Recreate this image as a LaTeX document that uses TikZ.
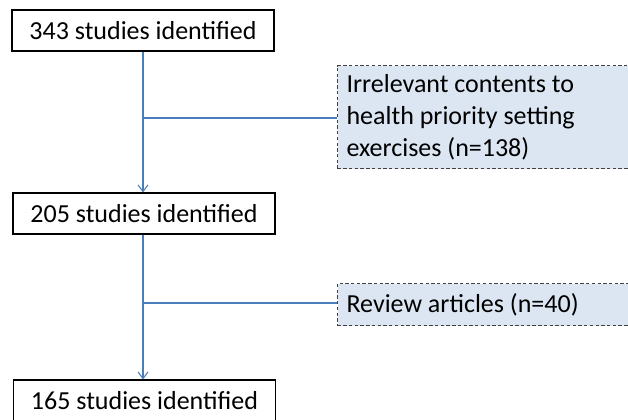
\documentclass[tikz,border=0pt]{standalone}
\usepackage{fontspec}
\setmainfont{Carlito}
\usetikzlibrary{arrows.meta}
\definecolor{linkblue}{HTML}{4A7EBB}
\definecolor{exfill}{HTML}{DCE6F2}
\tikzset{
  stagebox/.style={draw=black, line width=0.8pt, fill=white, minimum width=196.5pt, minimum height=30.75pt, inner sep=0pt, font=\fontsize{19.5pt}{24pt}\selectfont},
  exbox/.style={draw=black!75, line width=0.8pt, dash pattern=on 2.5pt off 1.8pt, fill=exfill, anchor=north west, inner xsep=6.75pt, inner ysep=0pt, align=flush left, text width=220pt, font=\fontsize{19.5pt}{24pt}\selectfont},
  flow/.style={draw=linkblue, line width=0.8pt},
  flowarrow/.style={flow, -{Straight Barb[length=5pt,width=7.5pt,line width=0.8pt]}}
}
\begin{document}
\begin{tikzpicture}[x=0.75pt,y=-0.75pt]
\useasboundingbox (0,0) rectangle (628,419);
\clip (0,0) rectangle (628,419);
\node[stagebox] (a) at (143,30.5) {343 studies identified};
\node[stagebox] (b) at (144,213.5) {205 studies identified};
\node[stagebox] (c) at (144.5,400.5) {165 studies identified};
\node[exbox, minimum height=77.25pt] (e1) at (337,65) {Irrelevant contents to\\health priority setting\\exercises (n=138)};
\node[exbox, minimum height=31.5pt] (e2) at (337,283) {Review articles (n=40)};
\draw[flowarrow] (a.south -| 143,0) -- (b.north -| 143,0);
\draw[flowarrow] (b.south -| 143,0) -- (c.north -| 143,0);
\coordinate (j1) at (143,118);
\coordinate (j2) at (143,303);
\draw[flow] (j1) -- (j1 -| e1.west);
\draw[flow] (j2) -- (j2 -| e2.west);
\end{tikzpicture}
\end{document}
